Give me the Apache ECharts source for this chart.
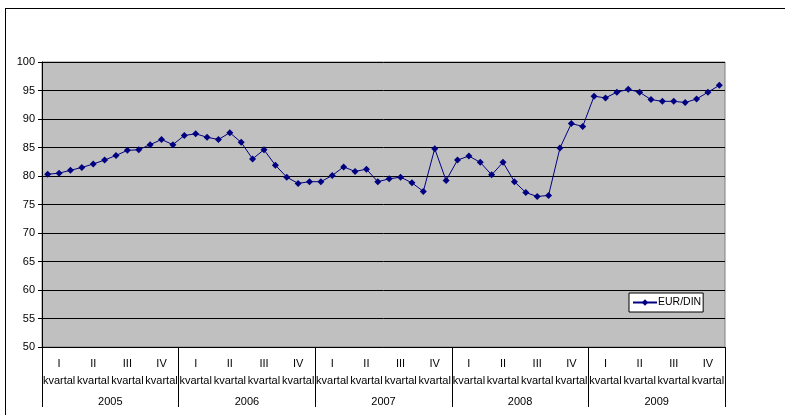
<!DOCTYPE html>
<html>
<head>
<meta charset="utf-8">
<script src="https://cdn.jsdelivr.net/npm/echarts@6/dist/echarts.min.js"></script>
<style>
html,body{margin:0;padding:0;background:#fff;}
#chart{width:785px;height:415px;}
</style>
</head>
<body>
<div id="chart"></div>
<script>
const years = ['2005', '2006', '2007', '2008', '2009'];
const quarterLabels = ['I', 'II', 'III', 'IV'];
const seriesName = 'EUR/DIN';
const yTicks = { min: 50, max: 100, interval: 5 };
const eurDin = [
  80.3, 80.5, 81.0, 81.5, 82.1, 82.8, 83.6, 84.5, 84.6, 85.5, 86.4, 85.5,
  87.1, 87.4, 86.8, 86.4, 87.6, 85.9, 83.0, 84.6, 81.9, 79.8, 78.7, 79.0,
  79.0, 80.1, 81.6, 80.8, 81.2, 79.0, 79.5, 79.8, 78.8, 77.3, 84.8, 79.2,
  82.8, 83.5, 82.4, 80.2, 82.4, 79.0, 77.1, 76.4, 76.6, 84.9, 89.2, 88.7,
  94.0, 93.7, 94.7, 95.2, 94.7, 93.4, 93.1, 93.1, 92.9, 93.5, 94.7, 95.9
];

const months = [];
years.forEach(y => { for (let m = 1; m <= 12; m++) months.push(y + '-' + m); });

const FONT = 'Liberation Sans, Arial, sans-serif';
const chart = echarts.init(document.getElementById('chart'), null, { renderer: 'canvas' });
chart.setOption({
  animation: false,
  backgroundColor: '#ffffff',
  textStyle: { fontFamily: FONT },
  grid: {
    left: 42, right: 60, top: 62, bottom: 68,
    show: true, backgroundColor: '#C0C0C0', borderColor: '#808080', borderWidth: 1
  },
  legend: {
    left: 629, top: 293,
    backgroundColor: '#ffffff', borderColor: '#000000', borderWidth: 1,
    padding: [4, 2, 4, 3], itemWidth: 24, itemHeight: 8, itemGap: 2,
    textStyle: { fontFamily: FONT, fontSize: 10.5, color: '#000', padding: [0, 0, 0, -4] },
    data: [seriesName]
  },
  xAxis: [
    {
      type: 'category', data: months, position: 'bottom',
      axisLine: { show: true, lineStyle: { color: '#000', width: 1 } },
      axisTick: { show: false },
      splitLine: { show: false },
      axisLabel: {
        interval: 0, margin: 8, color: '#000', fontFamily: FONT, fontSize: 11, lineHeight: 17,
        formatter: (v, i) => (i % 3 === 1) ? quarterLabels[Math.floor(i / 3) % 4] + '\nkvartal' : ''
      }
    },
    {
      type: 'category', data: years, position: 'bottom',
      axisLine: { show: false },
      axisTick: { show: true, length: 60, lineStyle: { color: '#000', width: 1 } },
      axisLabel: { margin: 49, color: '#000', fontFamily: FONT, fontSize: 11 },
      splitLine: { show: false }
    }
  ],
  yAxis: {
    type: 'value', min: yTicks.min, max: yTicks.max, interval: yTicks.interval,
    axisLine: { show: true, lineStyle: { color: '#000', width: 1 } },
    axisTick: { show: true, length: 4, lineStyle: { color: '#000' } },
    axisLabel: { margin: 7, color: '#000', fontFamily: FONT, fontSize: 11 },
    splitLine: { show: true, lineStyle: { color: '#000', width: 1 } }
  },
  series: [{
    name: seriesName, type: 'line', xAxisIndex: 0, data: eurDin,
    symbol: 'diamond', symbolSize: 7,
    lineStyle: { color: '#000080', width: 1 },
    itemStyle: { color: '#000080' }
  }],
  graphic: [
    { type: 'line', shape: { x1: 5, y1: 8.5, x2: 785, y2: 8.5 }, style: { stroke: '#000', lineWidth: 1 } },
    { type: 'line', shape: { x1: 5.5, y1: 8, x2: 5.5, y2: 415 }, style: { stroke: '#000', lineWidth: 1 } }
  ]
});
</script>
</body>
</html>
